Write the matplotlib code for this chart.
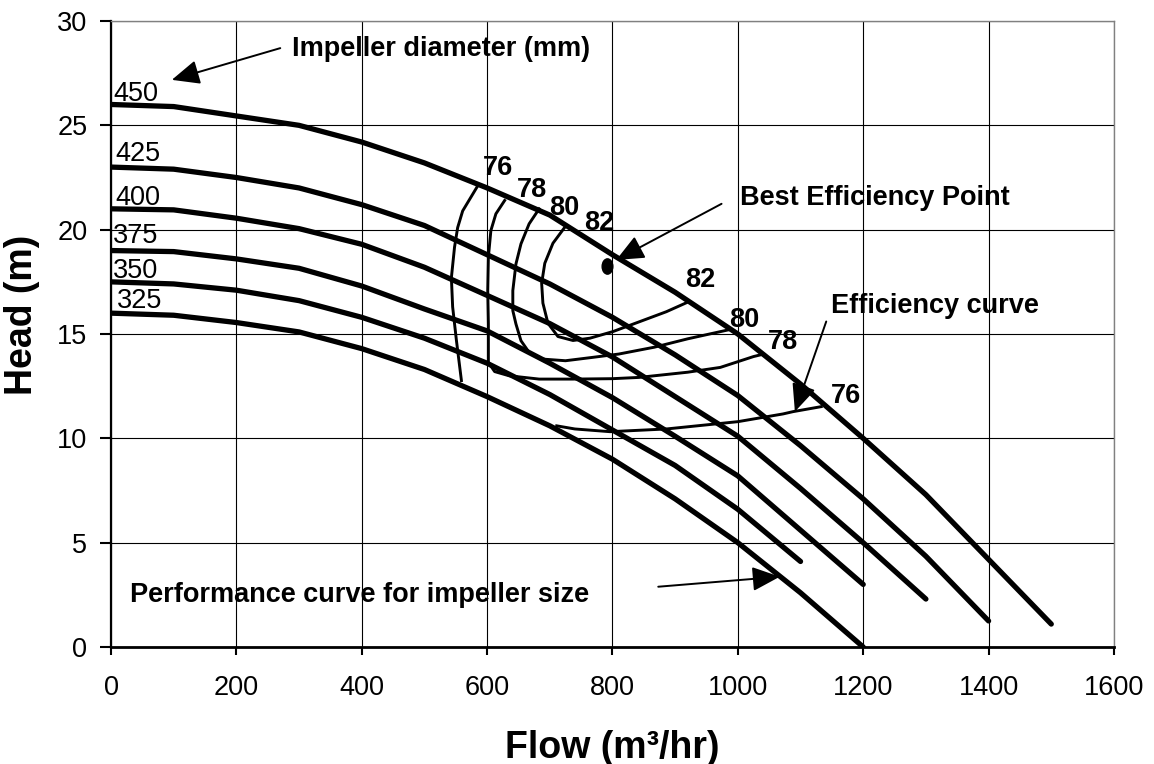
import matplotlib
matplotlib.use("Agg")
import matplotlib.pyplot as plt
from matplotlib.markers import MarkerStyle
from matplotlib.path import Path
from matplotlib.transforms import Affine2D

plt.rcParams["font.family"] = ["Liberation Sans", "DejaVu Sans"]

# Pump performance curves: head (m) against flow (m3/hr) for each impeller size
flow = [0, 100, 200, 300, 400, 500, 600, 700, 800, 900, 1000, 1100, 1200, 1300, 1400, 1500]
head_450 = [26.0, 25.9, 25.45, 25.0, 24.2, 23.2, 22.0, 20.7, 18.8, 17.0, 15.0, 12.6, 10.0, 7.3, 4.2, 1.1]
head_425 = [23.0, 22.9, 22.5, 22.0, 21.2, 20.2, 18.8, 17.4, 15.8, 14.0, 12.05, 9.65, 7.1, 4.35, 1.25]
head_400 = [21.0, 20.95, 20.55, 20.05, 19.3, 18.2, 16.85, 15.5, 13.9, 12.0, 10.1, 7.6, 5.0, 2.3]
head_375 = [19.0, 18.95, 18.6, 18.15, 17.3, 16.2, 15.15, 13.6, 11.95, 10.1, 8.2, 5.6, 3.0]
head_350 = [17.5, 17.4, 17.1, 16.6, 15.8, 14.8, 13.6, 12.1, 10.4, 8.7, 6.6, 4.1]
head_325 = [16.0, 15.9, 15.55, 15.1, 14.3, 13.3, 12.0, 10.6, 9.0, 7.1, 5.0, 2.6, 0.0]

diameters = ["450", "425", "400", "375", "350", "325"]
diameter_label_x = [3.7, 6.4, 6.4, 3.7, 3.0, 10.0]
diameter_label_y = [26.19, 23.31, 21.19, 19.38, 17.67, 16.24]

# Iso-efficiency contours (hand traced)
eff76_a_x = [585, 561, 553, 548, 543, 545, 551, 559]
eff76_a_y = [22.1, 20.9, 20.1, 19.16, 17.7, 16.3, 14.7, 12.77]
eff76_b_x = [711, 740, 796, 886, 1000, 1072, 1088, 1133]
eff76_b_y = [10.6, 10.45, 10.32, 10.45, 10.8, 11.17, 11.28, 11.52]
eff78_x = [628, 614, 606, 602, 601, 602, 602, 612, 635, 683, 736, 800, 842, 920, 972, 1025, 1036]
eff78_y = [21.4, 20.76, 19.96, 18.68, 17.08, 15.48, 13.64, 13.2, 13.0, 12.84, 12.84, 12.86, 12.92, 13.17, 13.4, 13.92, 14.0]
eff80_x = [683, 667, 654, 646, 641, 641, 646, 654, 667, 688, 725, 768, 810, 867, 920, 985]
eff80_y = [21.0, 20.28, 19.32, 18.36, 17.08, 16.12, 15.48, 14.68, 14.12, 13.8, 13.72, 13.88, 14.04, 14.37, 14.77, 15.2]
eff82_x = [724, 705, 692, 687, 689, 697, 713, 737, 764, 801, 844, 886, 918]
eff82_y = [20.12, 19.35, 18.39, 17.43, 16.48, 15.52, 14.88, 14.69, 14.8, 15.12, 15.6, 16.07, 16.5]

eff_labels = ["76", "78", "80", "82", "82", "80", "78", "76"]
eff_label_x = [617.8, 671, 722.5, 778.8, 940.5, 1009.6, 1072.3, 1172.2]
eff_label_y = [22.63, 21.59, 20.71, 19.99, 17.27, 15.36, 14.27, 11.68]

bep_flow, bep_head = 792, 18.26

fig = plt.figure(figsize=(11.54, 7.64), dpi=100)
ax = fig.add_axes([0.0962, 0.1531, 0.8691, 0.8194])

curves = [head_450, head_425, head_400, head_375, head_350, head_325]
for heads in curves:
    ax.plot(flow[:len(heads)], heads, color="black", lw=3.8,
            solid_capstyle="round", solid_joinstyle="round", zorder=3)

for name, lx, ly in zip(diameters, diameter_label_x, diameter_label_y):
    ax.text(lx, ly, name, fontsize=19.5, ha="left", va="baseline", zorder=4)

for cx, cy in [(eff76_a_x, eff76_a_y), (eff76_b_x, eff76_b_y), (eff78_x, eff78_y),
               (eff80_x, eff80_y), (eff82_x, eff82_y)]:
    ax.plot(cx, cy, color="black", lw=2.1, solid_joinstyle="round", zorder=3)

for lab, lx, ly in zip(eff_labels, eff_label_x, eff_label_y):
    ax.text(lx, ly, lab, fontsize=19.5, fontweight="bold", ha="center", va="baseline", zorder=4)

# Best efficiency point, drawn as an upright oval
oval = MarkerStyle(Path.unit_circle().transformed(Affine2D().scale(0.7, 1.0)))
ax.plot([bep_flow], [bep_head], marker=oval, markersize=11, color="black", zorder=5)

arrow = dict(arrowstyle="-|>,head_length=0.5,head_width=0.22", color="black",
             lw=1.4, mutation_scale=34, shrinkA=0, shrinkB=0)
notes = [
    ("Impeller diameter (mm)", (288, 28.30), (270, 28.7), (97, 27.18)),
    ("Best Efficiency Point", (1003, 21.19), (974, 21.24), (806, 18.55)),
    ("Efficiency curve", (1149, 16.0), (1141, 15.6), (1091, 11.28)),
    ("Performance curve for impeller size", (30, 2.17), (873, 2.89), (1067, 3.37)),
]
for txt, tpos, start, tip in notes:
    ax.text(tpos[0], tpos[1], txt, fontsize=19.5, fontweight="bold",
            ha="left", va="baseline", zorder=4)
    ax.annotate("", xy=tip, xytext=start, arrowprops=arrow, zorder=4)

ax.set_xlim(0, 1600)
ax.set_ylim(0, 30)
ax.set_xticks(range(0, 1601, 200))
ax.set_yticks(range(0, 31, 5))
ax.grid(True, color="black", lw=0.8)
ax.set_axisbelow(True)

ax.tick_params(axis="both", labelsize=19.5, color="black", width=1.5)
ax.tick_params(axis="y", direction="out", length=8, pad=9)
ax.tick_params(axis="x", direction="out", length=6, pad=14)

ax.spines["left"].set_linewidth(1.6)
ax.spines["bottom"].set_linewidth(2.0)
for side in ["top", "right"]:
    ax.spines[side].set_color("#808080")
    ax.spines[side].set_linewidth(1.0)

ax.set_xlabel("Flow (m³/hr)", fontsize=27, fontweight="bold")
ax.set_ylabel("Head (m)", fontsize=27, fontweight="bold")
ax.xaxis.set_label_coords(0.5, -0.132)
ax.yaxis.set_label_coords(-0.071, 0.53)

fig.savefig("out.png", dpi=100)
